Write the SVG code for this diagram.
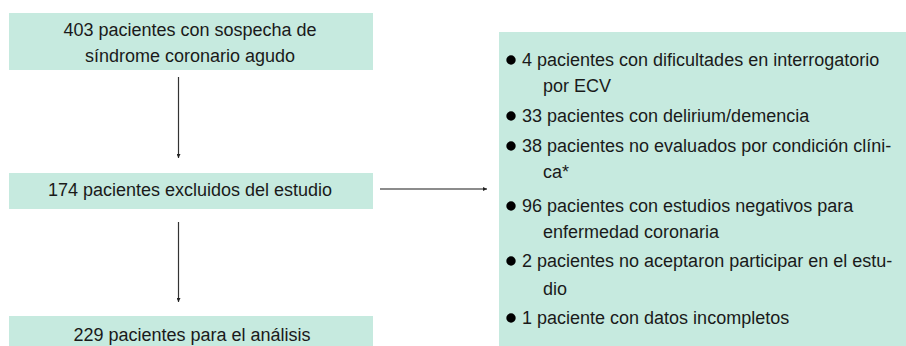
<svg xmlns="http://www.w3.org/2000/svg" width="906" height="346" viewBox="0 0 906 346">
<defs>
<marker id="ah" viewBox="0 0 6 6" refX="6" refY="3" markerWidth="4" markerHeight="4" markerUnits="userSpaceOnUse" orient="auto">
<path d="M0,0 L6,3 L0,6 Z" fill="#222"/>
</marker>
<style>
.box{fill:#C6EADF;}
.t{font-family:"Liberation Sans",Arial,sans-serif;font-size:18px;fill:#1a1a1a;}
.c{text-anchor:middle;}
.conn{stroke:#333;stroke-width:1.2;fill:none;}
.connh{stroke:#666;stroke-width:1.5;fill:none;}
.dot{fill:#000;}
</style>
</defs>
<rect width="906" height="346" fill="#fff"/>
<g id="n1">
<rect class="box" x="9" y="13" width="364" height="57"/>
<text class="t c" x="190" y="36">403 pacientes con sospecha de</text>
<text class="t c" x="190" y="62">síndrome coronario agudo</text>
</g>
<g id="n2">
<rect class="box" x="9" y="173" width="364" height="36"/>
<text class="t c" x="190" y="196">174 pacientes excluidos del estudio</text>
</g>
<g id="n3">
<rect class="box" x="9" y="316" width="364" height="30"/>
<text class="t c" x="192" y="341">229 pacientes para el análisis</text>
</g>
<g id="n4">
<rect class="box" x="499" y="32" width="407" height="314"/>
<circle class="dot" cx="511" cy="60" r="4.7"/>
<text class="t" x="522" y="66">4 pacientes con dificultades en interrogatorio</text>
<text class="t" x="543" y="92">por ECV</text>
<circle class="dot" cx="511" cy="116" r="4.7"/>
<text class="t" x="522" y="122">33 pacientes con delirium/demencia</text>
<circle class="dot" cx="511" cy="146" r="4.7"/>
<text class="t" x="522" y="152">38 pacientes no evaluados por condición clíni-</text>
<text class="t" x="543" y="178">ca*</text>
<circle class="dot" cx="511" cy="206" r="4.7"/>
<text class="t" x="522" y="212">96 pacientes con estudios negativos para</text>
<text class="t" x="543" y="238">enfermedad coronaria</text>
<circle class="dot" cx="511" cy="261" r="4.7"/>
<text class="t" x="522" y="267">2 pacientes no aceptaron participar en el estu-</text>
<text class="t" x="543" y="295">dio</text>
<circle class="dot" cx="511" cy="318" r="4.7"/>
<text class="t" x="522" y="324">1 paciente con datos incompletos</text>
</g>
<g id="connectors">
<line class="conn" x1="178.5" y1="77" x2="178.5" y2="158" marker-end="url(#ah)"/>
<line class="conn" x1="178.5" y1="222" x2="178.5" y2="302" marker-end="url(#ah)"/>
<line class="connh" x1="380" y1="189" x2="487" y2="189" marker-end="url(#ah)"/>
</g>
</svg>
